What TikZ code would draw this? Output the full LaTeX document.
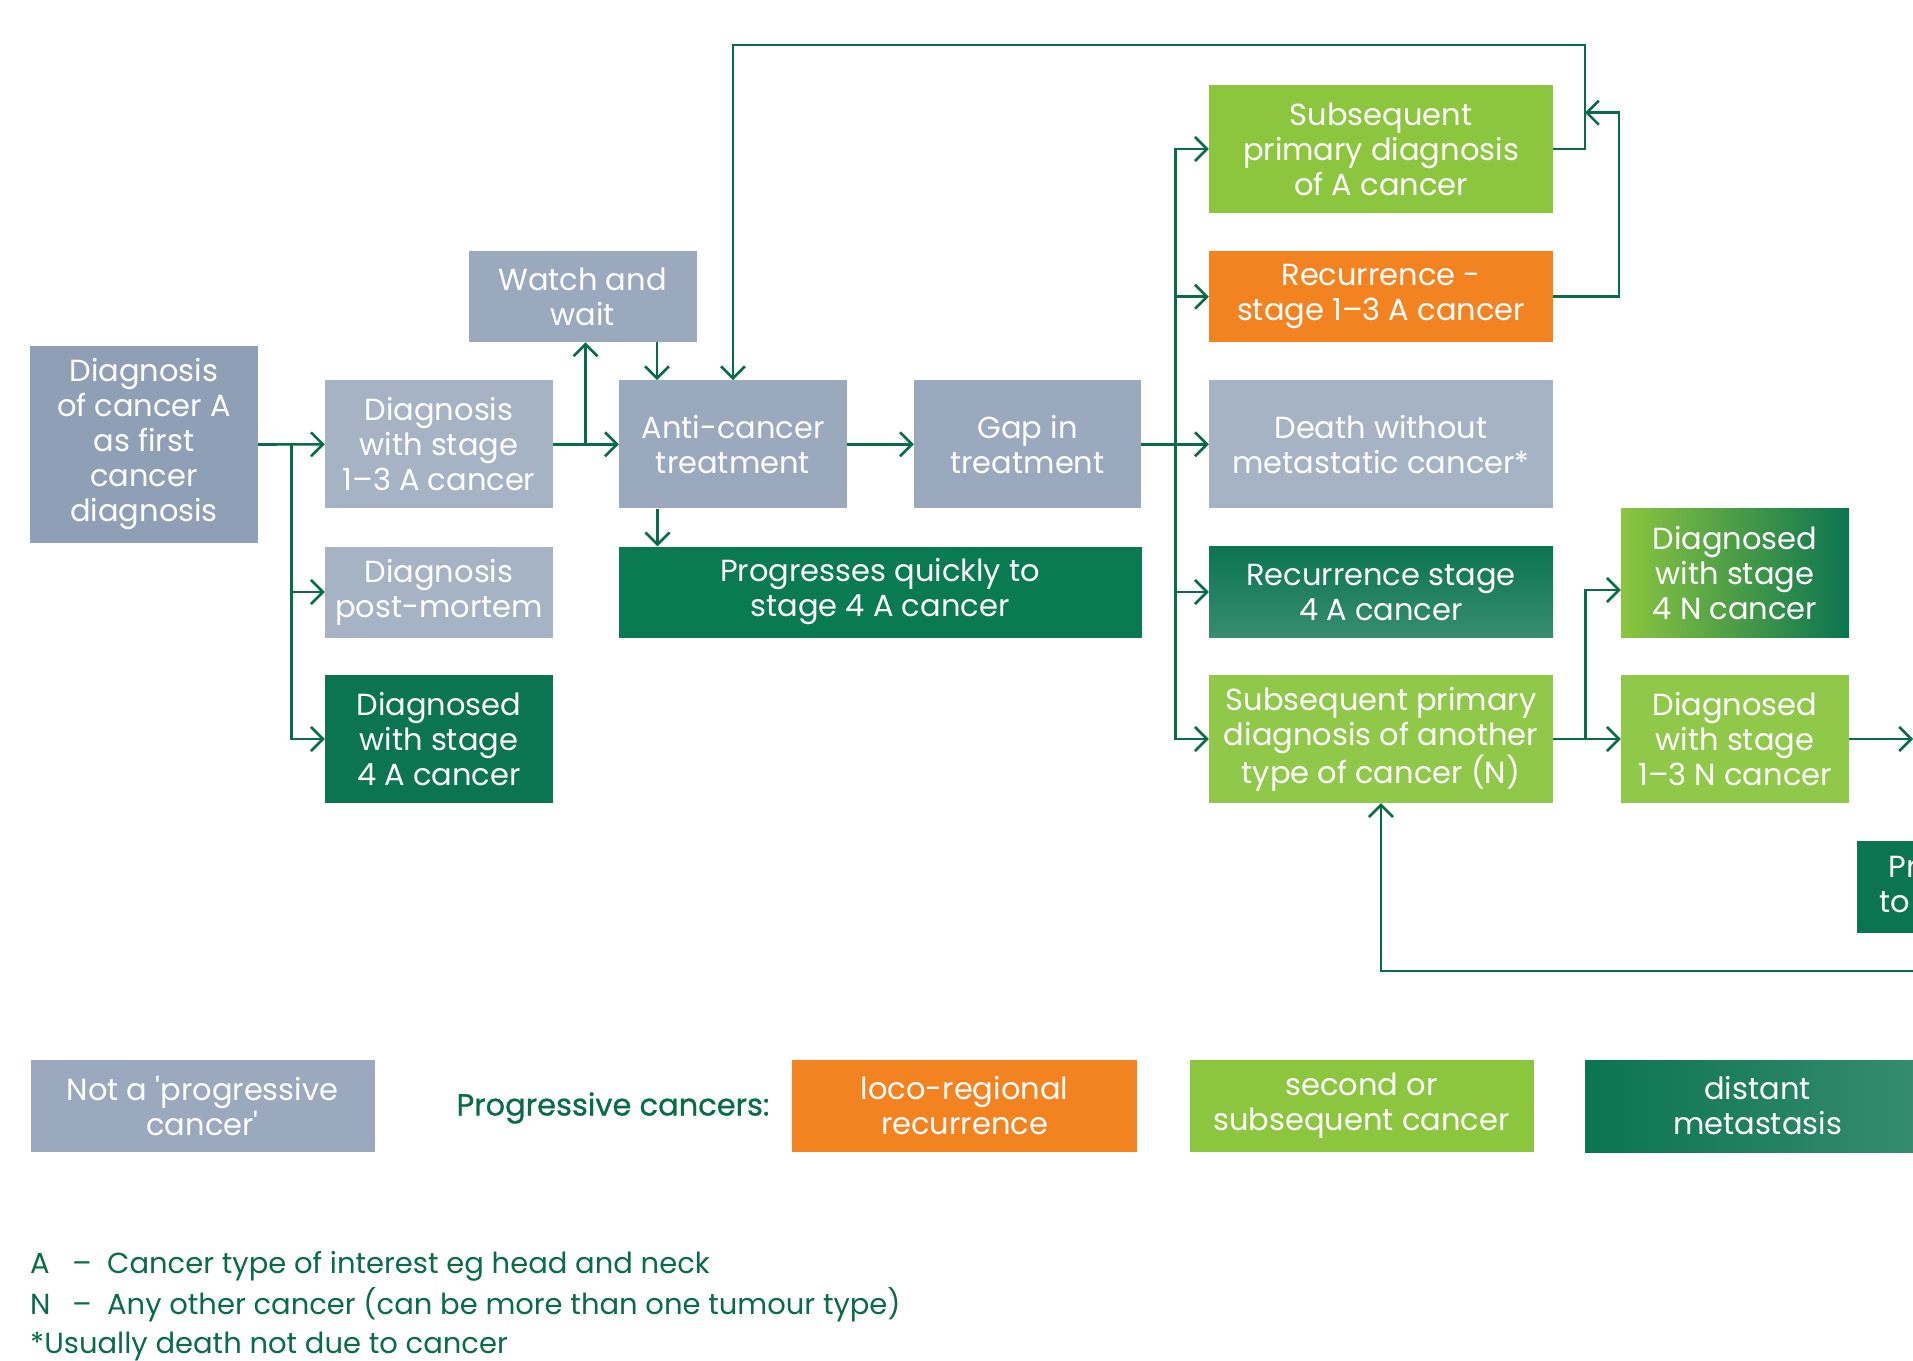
\documentclass[tikz,border=0pt]{standalone}
\usepackage{fontspec}
\setmainfont{Poppins}
\newfontfamily\medfont[FakeBold=0.8]{Poppins}
\usetikzlibrary{arrows.meta}
\definecolor{slateA}{HTML}{8FA0B6}
\definecolor{slateB}{HTML}{A6B3C5}
\definecolor{slateC}{HTML}{9AA9BD}
\definecolor{lgreen}{HTML}{8CC63F}
\definecolor{lgreenB}{HTML}{90C84A}
\definecolor{orng}{HTML}{F38221}
\definecolor{dgreen}{HTML}{0B7450}
\definecolor{dgreenB}{HTML}{0A7A52}
\definecolor{linegreen}{HTML}{0A6B47}
\tikzset{
  box/.style={rectangle, inner sep=0pt, text=white, align=center,
    font=\fontsize{30.5}{35}\selectfont},
  arr/.style={draw=linegreen, line width=2.6pt,
    -{Straight Barb[length=12pt,width=24pt]}},
  note/.style={anchor=base west, inner sep=0pt, text=linegreen,
    font=\fontsize{29}{34}\selectfont}
}
\begin{document}
\begin{tikzpicture}[x=1pt,y=-1pt]
\useasboundingbox (0,0) rectangle (1913,1360);
\clip (0,0) rectangle (1913,1360);
\fill[white] (0,0) rectangle (1913,1360);

% --- nodes ---
\node[box, fill=slateA, minimum width=228, minimum height=197] (box1) at (144,444.5)
  {Diagnosis\\of cancer A\\as first\\cancer\\diagnosis};
\node[box, fill=slateC, minimum width=228, minimum height=91] (watch) at (582.5,296.7)
  {Watch and\\wait};
\node[box, fill=slateB, minimum width=228, minimum height=128] (d13) at (439,444.3)
  {Diagnosis\\with stage\\1–3 A cancer};
\node[box, fill=slateB, minimum width=228, minimum height=91] (pm) at (439,592)
  {Diagnosis\\post-mortem};
\node[box, fill=dgreen, minimum width=228, minimum height=128] (d4a) at (439,739)
  {Diagnosed\\with stage\\4 A cancer};
\node[box, fill=slateC, minimum width=228, minimum height=128] (anti) at (733,444.3)
  {Anti-cancer\\treatment};
\node[box, fill=slateC, minimum width=227, minimum height=128] (gap) at (1027.5,444.3)
  {Gap in\\treatment};
\node[box, fill=dgreenB, minimum width=523, minimum height=91] (prog4a) at (880,592)
  {Progresses quickly to\\stage 4 A cancer};
\node[box, fill=lgreen, minimum width=344, minimum height=128] (subA) at (1381,149)
  {Subsequent\\primary diagnosis\\of A cancer};
\node[box, fill=orng, minimum width=344, minimum height=91] (rec13) at (1381,296.7)
  {Recurrence -\\stage 1–3 A cancer};
\node[box, fill=slateB, minimum width=344, minimum height=128] (death) at (1381,444.3)
  {Death without\\metastatic cancer*};
\node[box, top color=dgreen, bottom color=dgreen!82!white, minimum width=344, minimum height=91] (rec4a) at (1381,592)
  {Recurrence stage\\4 A cancer};
\node[box, fill=lgreenB, minimum width=344, minimum height=128] (subN) at (1381,739)
  {Subsequent primary\\diagnosis of another\\type of cancer (N)};
\node[box, left color=lgreen, right color=dgreen, minimum width=228, minimum height=129] (d4n) at (1735,573)
  {Diagnosed\\with stage\\4 N cancer};
\node[box, fill=lgreenB, minimum width=228, minimum height=128] (d13n) at (1735,739)
  {Diagnosed\\with stage\\1–3 N cancer};
\node[box, fill=dgreen, minimum width=344, minimum height=92] (progN) at (2029,887)
  {Progresses quickly\\to stage 4 N cancer};

% --- connectors ---
\coordinate (tr1) at (291.6,444.5);
\draw[arr] (box1.east) -- (d13.west);
\draw[arr] (tr1) |- (pm.west);
\draw[arr] (tr1) |- (d4a.west);
\draw[arr] (d13.east) -- (anti.west);
\draw[arr] ([xshift=3pt]watch.south |- d13.east) -- ([xshift=3pt]watch.south);
\draw[arr] ([xshift=74.5pt]watch.south) -- ([xshift=74.5pt]watch.south |- anti.north);
\draw[arr] ([xshift=-75.5pt]anti.south) -- ([xshift=-75.5pt]anti.south |- prog4a.north);
\draw[arr] (anti.east) -- (gap.west);
\draw[arr] (gap.east) -- (death.west);
\coordinate (tr2) at (1175.6,444.3);
\draw[arr] (tr2) |- (subA.west);
\draw[arr] (tr2) |- (rec13.west);
\draw[arr] (tr2) |- (rec4a.west);
\draw[arr] (tr2) |- (subN.west);
\coordinate (loopA) at (1585,45);
\draw[arr] (subA.east) -| (loopA) -| (anti.north);
\coordinate (loopB) at (1619,112.7);
\coordinate (loopBend) at (1585,112.7);
\draw[arr] (rec13.east) -| (loopB) -- (loopBend);
\coordinate (tr3) at (1585.3,739);
\draw[arr] (subN.east) -- (d13n.west);
\draw[arr] (tr3) |- ([yshift=-17pt]d4n.west);
\coordinate (edgeR) at (1913,739);
\draw[arr] (d13n.east) -- (edgeR);
\coordinate (edgeB) at (1913,971);
\draw[arr] (edgeB) -| (subN.south);

% --- legend ---
\node[box, fill=slateC, minimum width=344, minimum height=92] (lg1) at (202.5,1106)
  {Not a \textquotesingle progressive\\cancer\textquotesingle};
\node[text=linegreen, inner sep=0pt, font=\medfont\fontsize{30.5}{35}\selectfont] (lgt) at (613,1108)
  {Progressive cancers:};
\node[box, fill=orng, minimum width=345, minimum height=92] (lg2) at (964.5,1106)
  {loco-regional\\recurrence};
\node[box, fill=lgreen, minimum width=344, minimum height=92] (lg3) at (1361.5,1106)
  {second or\\subsequent cancer};
\node[box, left color=dgreen, right color=dgreen!82!white, minimum width=345, minimum height=92] (lg4) at (1757.5,1106)
  {distant\\metastasis};

% --- footnotes ---
\node[note] (fn1) at (30,1273) {\makebox[42pt][l]{A}\makebox[35pt][l]{–}Cancer type of interest eg head and neck};
\node[note] (fn2) at (30,1314) {\makebox[42pt][l]{N}\makebox[35pt][l]{–}Any other cancer (can be more than one tumour type)};
\node[note] (fn3) at (30,1353) {*Usually death not due to cancer};
\end{tikzpicture}
\end{document}
